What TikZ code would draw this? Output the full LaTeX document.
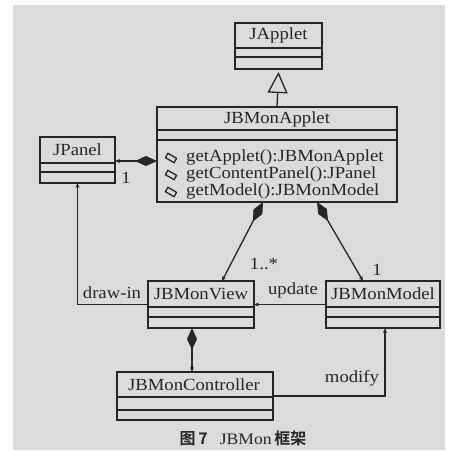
\documentclass[tikz,border=0pt]{standalone}
\usepackage{fontspec}
\setmainfont{Liberation Serif}[FakeStretch=1.1]
\newfontfamily\cjk{Noto Sans CJK SC}[BoldFont=* Bold]
\usetikzlibrary{arrows.meta,calc}
\begin{document}
\begin{tikzpicture}[x=1pt,y=-1pt,
  cls/.style={draw=black!85, line width=1.4pt, inner sep=0pt, outer sep=0pt, fill=none},
  txt/.style={inner sep=0pt, font=\fontsize{17}{17}\selectfont, text=black!85},
  conn/.style={draw=black!85, line width=1.3pt},
  comp/.style={conn, {Diamond[length=22pt,width=10pt]}-{Stealth[length=5pt,width=4pt]}},
  dep/.style={conn, -{Stealth[length=5pt,width=4pt]}},
  icon/.style={draw=black!85, line width=1.3pt, minimum width=10pt, minimum height=5pt, inner sep=0pt, rotate=-30}
]
\useasboundingbox (0,0) rectangle (449,451);
\fill[white] (0,0) rectangle (449,451);
\fill[black!14] (13,5) rectangle (445,450);

% classes
\node[cls, minimum width=87pt, minimum height=46pt] (japplet) at (278.5,46) {};
\draw[conn] ([yshift=-25pt]japplet.north west) -- ([yshift=-25pt]japplet.north east);
\draw[conn] ([yshift=-34pt]japplet.north west) -- ([yshift=-34pt]japplet.north east);
\node[txt] (japplett) at (278.5,35.5) {JApplet};

\node[cls, minimum width=240pt, minimum height=95pt] (applet) at (277,154.5) {};
\draw[conn] ([yshift=-23pt]applet.north west) -- ([yshift=-23pt]applet.north east);
\draw[conn] ([yshift=-33pt]applet.north west) -- ([yshift=-33pt]applet.north east);
\node[txt] (applett) at (277,119) {JBMonApplet};
\node[txt, anchor=west] (m1) at (186,157) {getApplet():JBMonApplet};
\node[txt, anchor=west] (m2) at (186,174) {getContentPanel():JPanel};
\node[txt, anchor=west] (m3) at (186,191) {getModel():JBMonModel};
\node[icon] (i1) at (171,158) {};
\node[icon] (i2) at (171,175) {};
\node[icon] (i3) at (171,192) {};

\node[cls, minimum width=75pt, minimum height=46pt] (jpanel) at (77.5,160) {};
\draw[conn] ([yshift=-26pt]jpanel.north west) -- ([yshift=-26pt]jpanel.north east);
\draw[conn] ([yshift=-35pt]jpanel.north west) -- ([yshift=-35pt]jpanel.north east);
\node[txt] (jpanelt) at (77.5,150) {JPanel};

\node[cls, minimum width=106pt, minimum height=47pt] (view) at (201,304.5) {};
\draw[conn] ([yshift=-26pt]view.north west) -- ([yshift=-26pt]view.north east);
\draw[conn] ([yshift=-36pt]view.north west) -- ([yshift=-36pt]view.north east);
\node[txt] (viewt) at (201,294) {JBMonView};

\node[cls, minimum width=114pt, minimum height=47pt] (model) at (383,304.5) {};
\draw[conn] ([yshift=-26pt]model.north west) -- ([yshift=-26pt]model.north east);
\draw[conn] ([yshift=-36pt]model.north west) -- ([yshift=-36pt]model.north east);
\node[txt] (modelt) at (383,294) {JBMonModel};

\node[cls, minimum width=156pt, minimum height=48pt] (ctrl) at (195,396) {};
\draw[conn] ([yshift=-25pt]ctrl.north west) -- ([yshift=-25pt]ctrl.north east);
\draw[conn] ([yshift=-38pt]ctrl.north west) -- ([yshift=-38pt]ctrl.north east);
\node[txt] (ctrlt) at (194,385) {JBMonController};

% connectors
\draw[conn, -{Triangle[open, length=21pt, width=20pt, line width=1.3pt]}] (applet.north) -- ([yshift=-3pt]japplet.south);
\draw[comp] (applet.west |- 0,161) coordinate (ap) -- (jpanel.east |- ap);
\draw[comp] ([xshift=-14pt]applet.south) -- ([xshift=21pt]view.north);
\draw[comp] ([xshift=40pt]applet.south) -- ([xshift=-20pt]model.north);
\draw[comp] ([xshift=-9pt]view.south) -- ([xshift=-3pt]ctrl.north);
\draw[dep] (view.west) -| (jpanel.south);
\draw[dep] (model.west) -- (view.east);
\draw[dep] (ctrl.east) -| ([xshift=2pt]model.south);

% labels
\node[txt] (l1) at (126,178) {1};
\node[txt] (l2) at (264,264) {1..*};
\node[txt] (l3) at (377,270) {1};
\node[txt] (ldraw) at (112,293) {draw-in};
\node[txt] (lupd) at (293,290) {update};
\node[txt] (lmod) at (352,378) {modify};

% caption
\node[inner sep=0pt, font=\fontsize{16}{16}\selectfont, text=black!85] (cap) at (243,438) {{\cjk\bfseries 图\,7}\hspace{12pt}JBMon\,{\cjk\bfseries 框架}};
\end{tikzpicture}
\end{document}
